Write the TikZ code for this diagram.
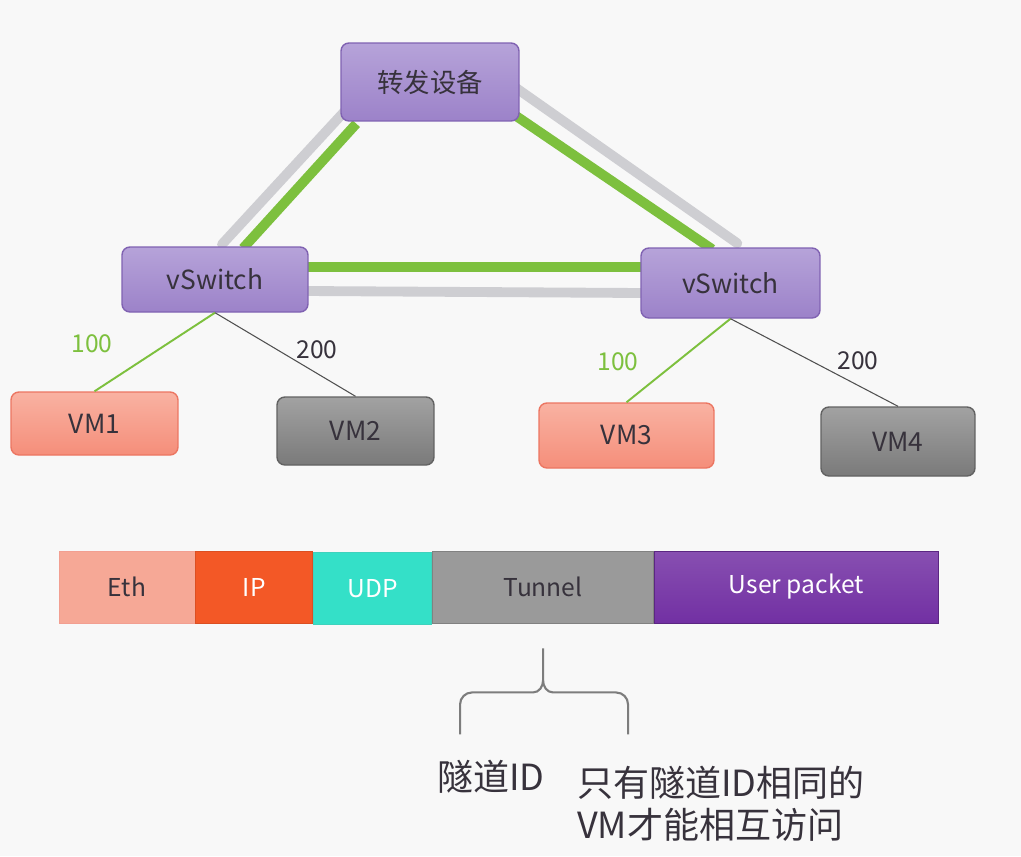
\documentclass[tikz,border=0pt]{standalone}
\usepackage{fontspec}
\setmainfont{Noto Sans CJK SC}
\usetikzlibrary{positioning, backgrounds}

\definecolor{bgcol}{RGB}{248,248,248}
\definecolor{purptop}{RGB}{182,163,217}
\definecolor{purpbot}{RGB}{156,130,201}
\definecolor{purpedge}{RGB}{128,98,178}
\definecolor{redtop}{RGB}{249,178,162}
\definecolor{redbot}{RGB}{245,142,122}
\definecolor{rededge}{RGB}{236,118,98}
\definecolor{graytop}{RGB}{162,162,162}
\definecolor{graybot}{RGB}{122,122,122}
\definecolor{grayedge}{RGB}{98,98,98}
\definecolor{linkgreen}{RGB}{125,192,62}
\definecolor{linkgray}{RGB}{206,206,210}
\definecolor{thingray}{RGB}{80,80,80}
\definecolor{textdark}{RGB}{55,50,60}
\definecolor{ethcol}{RGB}{246,168,150}
\definecolor{ipcol}{RGB}{243,88,38}
\definecolor{udpcol}{RGB}{52,224,200}
\definecolor{tunnelcol}{RGB}{154,154,154}
\definecolor{usercol}{RGB}{114,48,163}
\definecolor{bracecol}{RGB}{125,125,125}

\tikzset{
    devbox/.style={draw=purpedge, line width=0.8pt, rounded corners=4.5pt,
        top color=purptop, bottom color=purpbot, text=textdark,
        inner sep=0pt, font=\fontsize{15}{18}\selectfont},
    vmred/.style={draw=rededge, line width=0.8pt, rounded corners=4.5pt,
        top color=redtop, bottom color=redbot, text=textdark,
        inner sep=0pt, font=\fontsize{15}{18}\selectfont},
    vmgray/.style={draw=grayedge, line width=0.8pt, rounded corners=4.5pt,
        top color=graytop, bottom color=graybot, text=textdark,
        inner sep=0pt, font=\fontsize{15}{18}\selectfont},
    field/.style={line width=0.5pt, inner sep=0pt, minimum height=1.44cm,
        font=\fontsize{14}{16}\selectfont},
    greenlink/.style={draw=linkgreen, line width=5.6pt},
    graylink/.style={draw=linkgray, line width=5.6pt, line cap=round},
    vlan100/.style={draw=linkgreen, line width=1.1pt},
    vlan200/.style={draw=thingray, line width=0.6pt},
    taglabel/.style={font=\fontsize{14}{16}\selectfont}
}

\begin{document}
\begin{tikzpicture}[x=0.02cm, y=-0.02cm]
    \useasboundingbox (0,0) rectangle (1021,856);

    % devices
    \node[devbox, minimum width=3.56cm, minimum height=1.56cm] (fwd) at (430,82) {转发设备};
    \node[devbox, minimum width=3.72cm, minimum height=1.3cm] (swL) at (215,279.5) {vSwitch};
    \node[devbox, minimum width=3.58cm, minimum height=1.4cm] (swR) at (730.5,283) {vSwitch};

    \node[vmred, minimum width=3.34cm, minimum height=1.26cm] (vm1) at (94.5,423.5) {VM1};
    \node[vmgray, minimum width=3.14cm, minimum height=1.36cm] (vm2) at (355.5,431) {VM2};
    \node[vmred, minimum width=3.5cm, minimum height=1.3cm] (vm3) at (626.5,435.5) {VM3};
    \node[vmgray, minimum width=3.08cm, minimum height=1.38cm] (vm4) at (898,441.5) {VM4};

    % tunnels between the switches
    \begin{pgfonlayer}{background}
        \fill[bgcol] (0,0) rectangle (1021,856);
        \draw[graylink] ([shift={(7,-2)}]swL.north) -- ([shift={(4,-10)}]fwd.south west);
        \draw[greenlink] ([shift={(28,2)}]swL.north) -- ([shift={(16,2)}]fwd.south west);
        \draw[graylink] ([shift={(-4,-34)}]fwd.south east) -- ([shift={(97,-4)}]swR.north west);
        \draw[greenlink] ([shift={(-4,-6)}]fwd.south east) -- ([shift={(72,2)}]swR.north west);
        \draw[greenlink] ([shift={(-2,-12.5)}]swL.east) -- ([shift={(2,-16)}]swR.west);
        \draw[graylink, line cap=butt] ([shift={(-2,11.5)}]swL.east) -- ([shift={(2,10)}]swR.west);
    \end{pgfonlayer}

    % vlan links
    \draw[vlan100] (swL.south) -- (vm1.north);
    \draw[vlan200] (swL.south) -- (vm2.north);
    \draw[vlan100] (swR.south) -- (vm3.north);
    \draw[vlan200] (swR.south) -- (vm4.north);

    \node[taglabel, text=linkgreen] (t1) at (92,344) {100};
    \node[taglabel, text=textdark] (t2) at (317,350) {200};
    \node[taglabel, text=linkgreen] (t3) at (618,362) {100};
    \node[taglabel, text=textdark] (t4) at (858,361) {200};

    % packet
    \node[field, draw=rededge!70, fill=ethcol, text=textdark, minimum width=2.72cm] (eth) at (127,587) {Eth};
    \node[field, draw=ipcol!90!black, fill=ipcol, text=white, minimum width=2.34cm, right=0pt of eth] (ip) {IP};
    \node[field, draw=udpcol!85!gray, fill=udpcol, text=white, minimum width=2.36cm, right=0pt of ip, yshift=-1pt] (udp) {UDP};
    \node[field, draw=grayedge!80, fill=tunnelcol, text=textdark, minimum width=4.42cm, right=0pt of udp, yshift=1pt] (tunnel) {Tunnel};
    \node[field, draw=usercol!80!black, top color=usercol!85!white, bottom color=usercol, text=white, minimum width=5.68cm, right=0pt of tunnel] (user) {User packet};

    % brace under the tunnel field
    \coordinate (brtip) at ([shift={(0,25)}]tunnel.south);
    \draw[bracecol, line width=1.2pt]
        (brtip) -- ++(0,32) to[out=-90, in=0] ++(-10,12) -- ++(-61,0)
        to[out=180, in=90] ++(-12,12) -- ++(0,30);
    \draw[bracecol, line width=1.2pt]
        (brtip) ++(0,32) to[out=-90, in=180] ++(10,12) -- ++(63,0)
        to[out=0, in=90] ++(12,12) -- ++(0,30);

    \node[font=\fontsize{20.5}{24}\selectfont, text=textdark] (idlabel) at (491,777) {隧道ID};
    \node[font=\fontsize{20.5}{24}\selectfont, text=textdark, align=left, anchor=west] (idnote) at (571,804)
        {只有隧道ID相同的\\VM才能相互访问};
\end{tikzpicture}
\end{document}
